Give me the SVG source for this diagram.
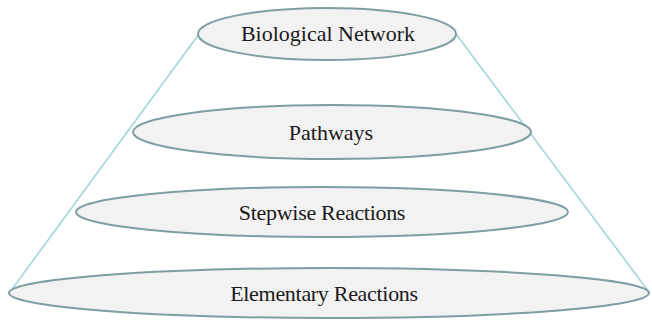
<svg xmlns="http://www.w3.org/2000/svg" width="652" height="320" viewBox="0 0 652 320">
<style>
.n ellipse{fill:#f2f2f2;stroke:#7f9ea2;stroke-width:2}
.n text{font-family:"Liberation Serif","Times New Roman",serif;font-size:22px;fill:#1a1a1a;text-anchor:middle}
.c line{stroke:#a3d5da;stroke-width:1.6}
</style>
<rect width="652" height="320" fill="#fff"/>
<g id="connectors" class="c">
<line x1="199" y1="34" x2="10" y2="292"/>
<line x1="456" y1="34" x2="649" y2="292"/>
</g>
<g id="elementary" class="n"><ellipse cx="329" cy="293" rx="320" ry="25"/><text x="324" y="301" letter-spacing="-0.3">Elementary Reactions</text></g>
<g id="stepwise" class="n"><ellipse cx="322" cy="212" rx="246" ry="25"/><text x="322" y="220" letter-spacing="-0.3">Stepwise Reactions</text></g>
<g id="pathways" class="n"><ellipse cx="332" cy="132" rx="199" ry="27"/><text x="331" y="140">Pathways</text></g>
<g id="network" class="n"><ellipse cx="327" cy="34" rx="129" ry="26"/><text x="328" y="41">Biological Network</text></g>
</svg>
